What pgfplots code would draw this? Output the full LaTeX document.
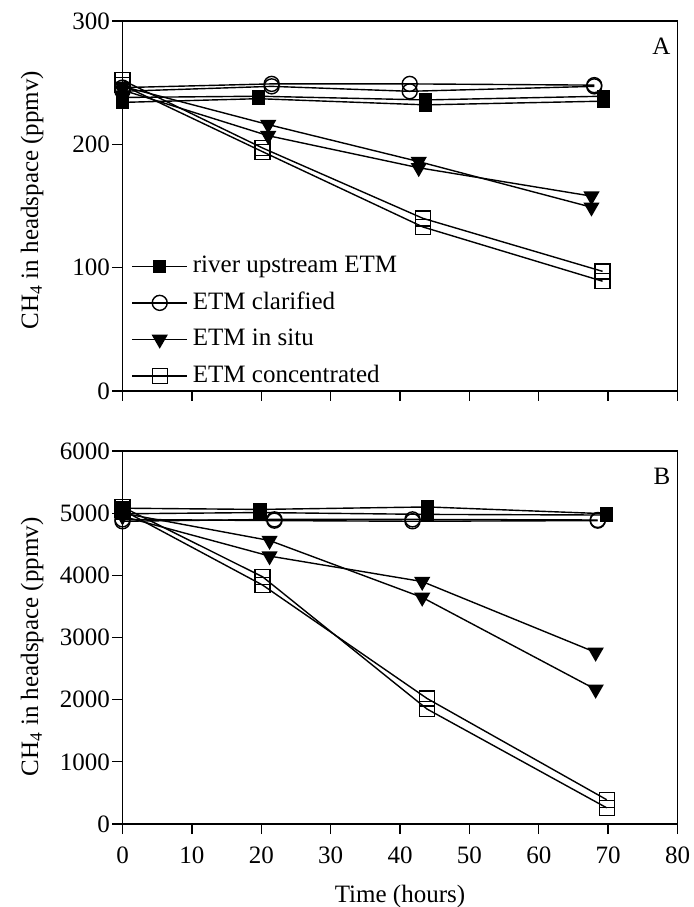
\documentclass[border=0pt]{standalone}
\usepackage{pgfplots}
\pgfplotsset{compat=1.18}
\usepackage{fontspec}
\setmainfont{Liberation Serif}

\pgfplotsset{
  fsq/.style={black, line width=1.4bp, mark=square*, mark size=6bp},
  ocirc/.style={black, line width=1.4bp, mark=o, mark size=7.5bp},
  tri/.style={black, line width=1.4bp, mark=triangle*, mark size=8bp, mark options={rotate=180}},
  osq/.style={black, line width=1.4bp, mark=square, mark size=7.5bp},
  myaxis/.style={
    scale only axis, width=555bp,
    xmin=0, xmax=80, xtick={0,10,...,80},
    xtick pos=lower, ytick pos=left, tick align=outside,
    major tick length=10bp,
    axis line style={line width=1.3bp}, every tick/.style={black, line width=1.3bp},
    clip=false,
    /pgf/number format/assume math mode=true,
    xticklabel style={yshift=-9bp},
    yticklabel style={xshift=1bp},
    ylabel style={at={(axis description cs:-0.163,0.5)}, anchor=center},
  },
}

\begin{document}
\begin{tikzpicture}[font=\fontsize{25bp}{30bp}\selectfont]
\useasboundingbox (0,0) rectangle (694bp,907bp);

% Panel A
\begin{axis}[myaxis,
  at={(122.5bp,516bp)}, anchor=south west, height=370bp,
  ymin=0, ymax=300, ytick={0,100,200,300},
  xticklabels={},
  ylabel={CH\textsubscript{4} in headspace (ppmv)},
  ylabel style={at={(axis description cs:-0.163,0.516)}},
  legend style={at={(axis cs:1.3,112)}, anchor=north west, draw=none, fill=none,
    inner sep=0pt, outer sep=0pt, row sep=9.5bp, column sep=4bp,
    nodes={inner sep=1bp, text height=19bp, text depth=6bp}},
  legend cell align=left,
  legend image code/.code={\draw[mark repeat=2,mark phase=2] plot coordinates {(0bp,0bp) (27.5bp,0bp) (55bp,0bp)};},
]
\addplot[fsq] coordinates {(0,238) (19.6,239) (43.7,236) (69.3,239)};
\addlegendentry{river upstream ETM}
\addplot[ocirc] coordinates {(0,246) (21.5,249) (41.4,249) (68,248)};
\addlegendentry{ETM clarified}
\addplot[tri] coordinates {(0,247) (21,216) (42.7,186) (67.6,149)};
\addlegendentry{ETM in situ}
\addplot[osq] coordinates {(0,252) (20.2,197) (43.3,140) (69.2,97)};
\addlegendentry{ETM concentrated}
\addplot[fsq, forget plot] coordinates {(0,234) (19.6,237) (43.7,232) (69.3,235)};
\addplot[ocirc, forget plot] coordinates {(0,243) (21.5,247) (41.4,243) (68,247)};
\addplot[tri, forget plot] coordinates {(0,244) (21,207) (42.7,181) (67.6,158)};
\addplot[osq, forget plot] coordinates {(0,248) (20.2,194) (43.3,133) (69.2,89)};
\node[anchor=north east, inner sep=0pt] at (rel axis cs:1,1) [xshift=-7bp, yshift=-17bp] {A};
\end{axis}

% Panel B
\begin{axis}[myaxis,
  at={(122.5bp,83bp)}, anchor=south west, height=373bp,
  ymin=0, ymax=6000, ytick={0,1000,...,6000},
  ylabel={CH\textsubscript{4} in headspace (ppmv)},
  ylabel style={at={(axis description cs:-0.163,0.475)}},
  xlabel={Time (hours)},
  xlabel style={at={(axis description cs:0.5,-0.195)}, anchor=center},
  /pgf/number format/1000 sep={},
]
\addplot[fsq] coordinates {(0,5080) (19.8,5060) (44,5100) (69.8,4990)};
\addplot[fsq] coordinates {(0,4990) (19.8,5010) (44,4980) (69.8,4970)};
\addplot[ocirc] coordinates {(0,4900) (21.9,4880) (41.8,4870) (68.5,4880)};
\addplot[ocirc] coordinates {(0,4870) (21.9,4900) (41.8,4900) (68.5,4890)};
\addplot[tri] coordinates {(0,5000) (21.2,4560) (43.2,3645) (68.2,2165)};
\addplot[tri] coordinates {(0,4950) (21.2,4310) (43.2,3900) (68.2,2760)};
\addplot[osq] coordinates {(0,5100) (20.2,3976) (43.9,1849) (69.8,260)};
\addplot[osq] coordinates {(0,5050) (20.2,3843) (43.9,2019) (69.8,390)};
\node[anchor=north east, inner sep=0pt] at (rel axis cs:1,1) [xshift=-7bp, yshift=-17bp] {B};
\end{axis}
\end{tikzpicture}
\end{document}
